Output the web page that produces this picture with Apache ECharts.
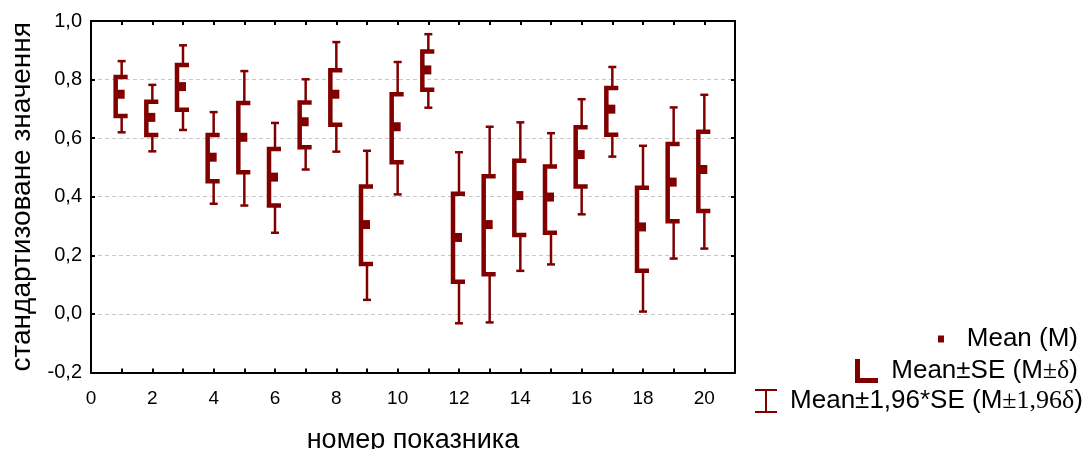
<!DOCTYPE html>
<html>
<head>
<meta charset="utf-8">
<script src="https://cdn.jsdelivr.net/npm/echarts@6/dist/echarts.min.js"></script>
<style>
html,body{margin:0;padding:0;background:#fff;}
#chart{width:1088px;height:449px;}
</style>
</head>
<body>
<div id="chart"></div>
<script>
// Indicator numbers (x positions)
const indicators = [1,2,3,4,5,6,7,8,9,10,11,12,13,14,15,16,17,18,19,20];
// Mean (M)
const means  = [0.750,0.671,0.776,0.535,0.603,0.467,0.656,0.750,0.305,0.639,0.833,0.261,0.305,0.404,0.399,0.544,0.699,0.297,0.450,0.493];
// Mean - SE / Mean + SE
const seLow  = [0.676,0.611,0.697,0.453,0.484,0.370,0.569,0.646,0.170,0.518,0.765,0.110,0.135,0.269,0.277,0.435,0.612,0.147,0.316,0.351];
const seHigh = [0.809,0.724,0.850,0.611,0.720,0.563,0.722,0.832,0.435,0.750,0.896,0.410,0.470,0.523,0.503,0.637,0.771,0.431,0.580,0.622];
// Mean - 1.96*SE / Mean + 1.96*SE
const ciLow  = [0.620,0.555,0.628,0.376,0.370,0.277,0.493,0.554,0.048,0.408,0.704,-0.032,-0.029,0.147,0.169,0.340,0.537,0.008,0.189,0.223];
const ciHigh = [0.863,0.782,0.917,0.689,0.829,0.652,0.801,0.928,0.557,0.860,0.955,0.552,0.639,0.654,0.617,0.733,0.843,0.574,0.705,0.748];
// Axis ticks
const xTickLabels = [0,2,4,6,8,10,12,14,16,18,20];
const yTickLabels = ['-0,2','0,0','0,2','0,4','0,6','0,8','1,0'];

const COLOR = '#800000';
const SANS = '"Liberation Sans", Arial, sans-serif';
const SERIF = '"Liberation Serif", "Times New Roman", serif';

const rows = indicators.map((x, i) => [x, means[i], seLow[i], seHigh[i], ciLow[i], ciHigh[i]]);

function renderItem(params, api) {
  const x = api.value(0);
  const pm = api.coord([x, api.value(1)]);
  const cx = pm[0], yM = pm[1];
  const ySL = api.coord([x, api.value(2)])[1];
  const ySH = api.coord([x, api.value(3)])[1];
  const yCL = api.coord([x, api.value(4)])[1];
  const yCH = api.coord([x, api.value(5)])[1];
  const ws = {stroke: COLOR, lineWidth: 2.5};
  return {
    type: 'group',
    children: [
      {type: 'line', shape: {x1: cx, y1: yCH, x2: cx, y2: ySH}, style: ws},
      {type: 'line', shape: {x1: cx, y1: ySL, x2: cx, y2: yCL}, style: ws},
      {type: 'line', shape: {x1: cx - 4, y1: yCH, x2: cx + 4, y2: yCH}, style: ws},
      {type: 'line', shape: {x1: cx - 4, y1: yCL, x2: cx + 4, y2: yCL}, style: ws},
      {type: 'polyline', shape: {points: [[cx + 6, ySH], [cx - 6, ySH], [cx - 6, ySL], [cx + 6, ySL]]},
        style: {stroke: COLOR, lineWidth: 4.5, fill: null, lineJoin: 'miter'}},
      {type: 'rect', shape: {x: cx - 7, y: yM - 4.5, width: 10, height: 9}, style: {fill: COLOR}}
    ]
  };
}

const axisLine = {show: true, onZero: false, lineStyle: {color: '#000', width: 2}};
const tick = {show: true, inside: true, length: 4, lineStyle: {color: '#000', width: 2}};
const chart = echarts.init(document.getElementById('chart'));
chart.setOption({
  animation: false,
  grid: {left: 91, right: 353, top: 21, bottom: 76.5, containLabel: false, outerBoundsMode: 'none'},
  xAxis: [
    {type: 'value', position: 'bottom', min: 0, max: 21, interval: 1,
      axisLine: axisLine, splitLine: {show: false}, axisTick: tick,
      axisLabel: {fontSize: 19, fontFamily: SANS, color: '#000', margin: 17,
        formatter: v => xTickLabels.indexOf(v) >= 0 ? String(v) : ''},
      name: 'номер показника', nameLocation: 'middle', nameGap: 55,
      nameTextStyle: {fontSize: 27, fontFamily: SANS, color: '#000'}},
    {type: 'value', position: 'top', min: 0, max: 21, interval: 1,
      axisLine: axisLine, splitLine: {show: false}, axisTick: tick,
      axisLabel: {show: false}}
  ],
  yAxis: [
    {type: 'value', position: 'left', min: -0.2, max: 1.0, interval: 0.2,
      axisLine: axisLine, axisTick: tick,
      splitLine: {show: true, lineStyle: {color: '#c8c8c8', type: [4, 3], width: 1}},
      axisLabel: {fontSize: 20, fontFamily: SANS, color: '#000', margin: 9,
        formatter: v => yTickLabels[Math.round((v + 0.2) / 0.2)]},
      name: 'стандартизоване значення', nameLocation: 'middle', nameGap: 50, nameRotate: 90,
      nameTextStyle: {fontSize: 28, fontFamily: SANS, color: '#000'}},
    {type: 'value', position: 'right', min: -0.2, max: 1.0, interval: 0.2,
      axisLine: axisLine, splitLine: {show: false}, axisTick: tick,
      axisLabel: {show: false}}
  ],
  series: [{
    type: 'custom', name: 'Mean', xAxisIndex: 0, yAxisIndex: 0,
    renderItem: renderItem, data: rows, clip: false,
    encode: {x: 0, y: [1, 2, 3, 4, 5]}
  }],
  graphic: [
    // legend: Mean (M)
    {type: 'rect', shape: {x: 938, y: 335.5, width: 6, height: 7}, style: {fill: COLOR}},
    {type: 'text', x: 1078, y: 339, style: {text: 'Mean (M)', align: 'right', verticalAlign: 'middle',
      font: '26px ' + SANS, fill: '#000'}},
    // legend: Mean±SE
    {type: 'polyline', shape: {points: [[857.5, 359], [857.5, 380.5], [878, 380.5]]},
      style: {stroke: COLOR, lineWidth: 5, fill: null, lineJoin: 'miter'}},
    {type: 'text', x: 1078, y: 371, style: {text: 'Mean±SE (M{s|±δ})', align: 'right', verticalAlign: 'middle',
      font: '26px ' + SANS, fill: '#000', rich: {s: {fontFamily: SERIF, fontSize: 26, fill: '#000'}}}},
    // legend: Mean±1,96*SE
    {type: 'line', shape: {x1: 766, y1: 390, x2: 766, y2: 412}, style: {stroke: COLOR, lineWidth: 2}},
    {type: 'line', shape: {x1: 755, y1: 390, x2: 777, y2: 390}, style: {stroke: COLOR, lineWidth: 2}},
    {type: 'line', shape: {x1: 755, y1: 412, x2: 777, y2: 412}, style: {stroke: COLOR, lineWidth: 2}},
    {type: 'text', x: 1083, y: 401, style: {text: 'Mean±1,96*SE (M{s|±1,96δ})', align: 'right', verticalAlign: 'middle',
      font: '26px ' + SANS, fill: '#000', rich: {s: {fontFamily: SERIF, fontSize: 26, fill: '#000'}}}}
  ]
});
</script>
</body>
</html>
